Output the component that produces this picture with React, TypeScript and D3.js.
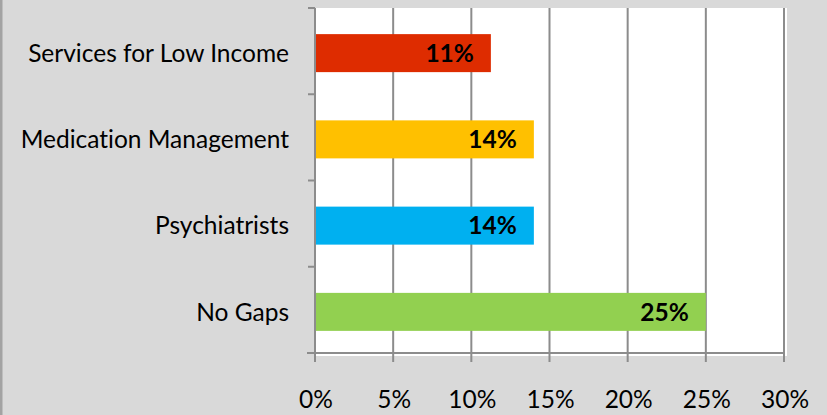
import React from "react";
import * as d3 from "d3";

const categories = ["Services for Low Income", "Medication Management", "Psychiatrists", "No Gaps"];
const values = [0.1125, 0.14, 0.14, 0.25];
const colors = ["#DE2C00", "#FFC000", "#00B0F0", "#92D050"];
const labels = ["11%", "14%", "14%", "25%"];
const xTicks = [0, 0.05, 0.1, 0.15, 0.2, 0.25, 0.3];

const W = 827, H = 415;
const X0 = 315, X1 = 784, Y0 = 8, Y1 = 353;
const FONT = "Lato, 'Open Sans', sans-serif";
const FS = 24.5;

export default function App() {
  const x = d3.scaleLinear().domain([0, 0.3]).range([X0, X1]);
  const y = d3.scaleBand<string>().domain(categories).range([Y0, Y1]).paddingInner(0).paddingOuter(0);
  const bw = y.bandwidth();
  const barH = 38;
  const fmt = d3.format(".0%");
  const bounds = d3.range(categories.length + 1).map((i) => Y0 + i * bw);
  const textStyle = { fontVariantLigatures: "none" as const };
  return (
    <svg width={W} height={H} style={{ position: "absolute", left: 0, top: 0 }}>
      <rect x={0} y={0} width={W} height={H} fill="#D9D9D9" />
      <rect x={0} y={0} width={2.5} height={H} fill="#A3A3A3" />
      <rect x={X0} y={Y0} width={787 - X0} height={356 - Y0} fill="#FFFFFF" />
      {xTicks.map((t) => (
        <line key={"g" + t} x1={x(t)} x2={x(t)} y1={Y0} y2={Y1 + 9} stroke="#8C8C8C" strokeWidth={2} />
      ))}
      <line x1={X0} x2={X0} y1={Y0} y2={Y1 + 9} stroke="#8C8C8C" strokeWidth={2} />
      <line x1={X0 - 8} x2={X1 + 1} y1={Y1} y2={Y1} stroke="#8C8C8C" strokeWidth={2} />
      {bounds.map((b, i) => (
        <line key={"t" + i} x1={X0 - 7} x2={X0} y1={b} y2={b} stroke="#8C8C8C" strokeWidth={2} />
      ))}
      {categories.map((c, i) => {
        const cy = (y(c) as number) + bw / 2 + 2;
        return (
          <g key={c}>
            <rect x={x(0) + 1} y={cy - barH / 2} width={x(values[i]) - x(0) - 1} height={barH} fill={colors[i]} />
            <text x={x(values[i]) - 17} y={cy} dy="0.36em" textAnchor="end" fontFamily={FONT} fontWeight="bold" fontSize={FS} fill="#000" style={textStyle}>
              {labels[i]}
            </text>
            <text x={289} y={cy} dy="0.36em" textAnchor="end" fontFamily={FONT} fontSize={FS} fill="#000" style={textStyle}>
              {c}
            </text>
          </g>
        );
      })}
      {xTicks.map((t) => (
        <text key={"l" + t} x={x(t) + 1} y={408} textAnchor="middle" fontFamily={FONT} fontSize={FS} fill="#000" style={textStyle}>
          {fmt(t)}
        </text>
      ))}
    </svg>
  );
}
